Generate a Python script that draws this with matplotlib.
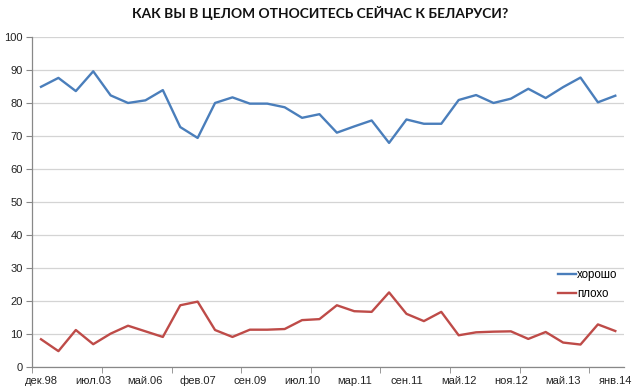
import numpy as np
import matplotlib.pyplot as plt
from matplotlib.ticker import FixedLocator

# data
labels = ["дек.98", "июл.03", "май.06", "фев.07", "сен.09", "июл.10",
          "мар.11", "сен.11", "май.12", "ноя.12", "май.13", "янв.14"]

good = [85.0, 87.7, 83.7, 89.7, 82.4, 80.1, 80.9, 84.0, 72.8, 69.5,
        80.1, 81.8, 79.9, 79.9, 78.8, 75.6, 76.7, 71.1, 73.0, 74.8,
        68.0, 75.1, 73.8, 73.8, 81.0, 82.5, 80.1, 81.4, 84.4, 81.6,
        84.9, 87.8, 80.3, 82.3]

bad = [8.5, 4.9, 11.3, 7.0, 10.2, 12.6, 10.9, 9.2, 18.8, 19.9,
       11.3, 9.2, 11.4, 11.4, 11.6, 14.3, 14.6, 18.8, 17.0, 16.8,
       22.7, 16.2, 14.0, 16.8, 9.7, 10.6, 10.8, 10.9, 8.6, 10.7,
       7.5, 6.9, 13.0, 11.0]

x = np.arange(len(good))

fig = plt.figure(figsize=(6.4, 3.91), dpi=100)
ax = fig.add_axes([0.0505, 0.0606, 0.9245, 0.844])

ax.plot(x, good, color="#4A7EBB", lw=1.7, label="хорошо")
ax.plot(x, bad, color="#BE4B48", lw=1.7, label="плохо")

ax.set_xlim(-0.5, len(good) - 0.5)
ax.set_ylim(0, 100)
ax.set_yticks(range(0, 101, 10))
ax.yaxis.grid(True, color="#D4D4D4", lw=0.9)
ax.set_axisbelow(True)

ax.set_xticks(x[::3])
ax.set_xticklabels(labels)
ax.xaxis.set_minor_locator(FixedLocator(np.arange(-0.5, len(good), 4)))
ax.tick_params(axis="x", which="major", length=0, pad=6, labelsize=8,
               labelcolor="#222222")
ax.tick_params(axis="x", which="minor", length=4, color="#888888")
ax.tick_params(axis="y", length=4, color="#888888", labelsize=8,
               labelcolor="#222222", pad=3)
for lab in ax.get_xticklabels() + ax.get_yticklabels():
    lab.set_family("Liberation Sans")

for s in ["top", "right"]:
    ax.spines[s].set_visible(False)
for s in ["left", "bottom"]:
    ax.spines[s].set_color("#888888")
    ax.spines[s].set_linewidth(0.9)

ax.legend(loc="center left", bbox_to_anchor=(0.888, 0.251), frameon=False,
          prop={"family": "Liberation Sans", "size": 8.3},
          handlelength=1.6, handletextpad=0.1, labelspacing=0.55,
          borderpad=0, borderaxespad=0)

fig.suptitle("КАК ВЫ В ЦЕЛОМ ОТНОСИТЕСЬ СЕЙЧАС К БЕЛАРУСИ?",
             x=0.5, y=0.985, fontsize=9.9, fontweight="bold",
             family="Lato", color="#111111")

fig.savefig("out.png", dpi=100)
